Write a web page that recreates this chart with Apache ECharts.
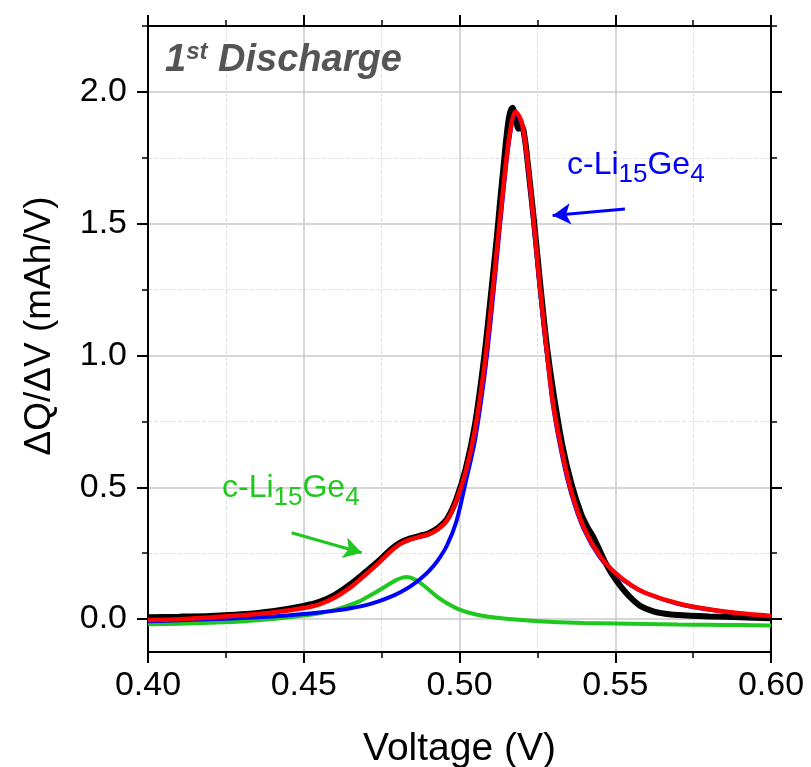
<!DOCTYPE html>
<html>
<head>
<meta charset="utf-8">
<script src="https://cdn.jsdelivr.net/npm/echarts@6/dist/echarts.min.js"></script>
<style>
  html, body { margin: 0; background: #fff; }
  #chart { width: 811px; height: 767px; }
</style>
</head>
<body>
<div id="chart"></div>
<script>
  // measured dQ/dV (black)
  const dataV = [0.400, 0.410, 0.420, 0.430, 0.440, 0.450, 0.455, 0.460, 0.465, 0.470, 0.474, 0.478, 0.481, 0.484, 0.487, 0.490, 0.493, 0.496, 0.499, 0.502, 0.505, 0.508, 0.510, 0.512, 0.513, 0.514, 0.515, 0.516, 0.517, 0.518, 0.519, 0.520, 0.521, 0.522, 0.524, 0.526, 0.528, 0.530, 0.533, 0.536, 0.539, 0.541, 0.543, 0.545, 0.547, 0.549, 0.552, 0.555, 0.558, 0.562, 0.566, 0.570, 0.580, 0.590, 0.600];
  const dataQ = [0.007, 0.009, 0.012, 0.018, 0.030, 0.050, 0.065, 0.092, 0.132, 0.180, 0.220, 0.265, 0.290, 0.305, 0.315, 0.325, 0.345, 0.380, 0.455, 0.57, 0.74, 1.00, 1.22, 1.45, 1.58, 1.70, 1.82, 1.91, 1.94, 1.90, 1.86, 1.87, 1.82, 1.72, 1.50, 1.26, 1.04, 0.87, 0.66, 0.51, 0.40, 0.35, 0.31, 0.26, 0.21, 0.17, 0.12, 0.08, 0.05, 0.03, 0.02, 0.015, 0.010, 0.007, 0.003];

  // fit curves: envelope (red), main peak (blue)
  const fitV = [0.400, 0.410, 0.420, 0.430, 0.440, 0.450, 0.455, 0.460, 0.465, 0.470, 0.474, 0.478, 0.481, 0.484, 0.487, 0.490, 0.493, 0.496, 0.499, 0.502, 0.505, 0.508, 0.510, 0.512, 0.514, 0.516, 0.518, 0.520, 0.522, 0.524, 0.526, 0.528, 0.530, 0.533, 0.536, 0.540, 0.545, 0.550, 0.555, 0.560, 0.570, 0.580, 0.590, 0.600];
  const envelopeQ = [-0.004, -0.001, 0.006, 0.014, 0.025, 0.042, 0.056, 0.082, 0.12, 0.17, 0.212, 0.258, 0.285, 0.301, 0.312, 0.321, 0.340, 0.375, 0.45, 0.56, 0.72, 0.96, 1.17, 1.40, 1.63, 1.83, 1.925, 1.885, 1.72, 1.485, 1.24, 1.02, 0.82, 0.63, 0.48, 0.345, 0.24, 0.175, 0.13, 0.098, 0.06, 0.037, 0.022, 0.012];
  const mainPeakQ = [-0.008, -0.005, -0.001, 0.004, 0.010, 0.019, 0.025, 0.032, 0.041, 0.053, 0.067, 0.085, 0.102, 0.122, 0.148, 0.180, 0.222, 0.28, 0.37, 0.52, 0.68, 0.92, 1.13, 1.37, 1.61, 1.82, 1.92, 1.88, 1.71, 1.475, 1.23, 1.01, 0.81, 0.615, 0.47, 0.338, 0.235, 0.172, 0.128, 0.097, 0.058, 0.036, 0.021, 0.011];

  // minor peak (green)
  const minorV = [0.400, 0.410, 0.420, 0.430, 0.440, 0.450, 0.455, 0.460, 0.464, 0.468, 0.472, 0.475, 0.478, 0.480, 0.482, 0.483, 0.484, 0.486, 0.488, 0.490, 0.493, 0.496, 0.500, 0.505, 0.510, 0.520, 0.530, 0.540, 0.550, 0.560, 0.570, 0.580, 0.590, 0.600];
  const minorQ = [-0.020, -0.018, -0.014, -0.009, 0.000, 0.013, 0.022, 0.035, 0.050, 0.068, 0.094, 0.115, 0.137, 0.150, 0.158, 0.160, 0.158, 0.148, 0.132, 0.113, 0.083, 0.060, 0.036, 0.018, 0.008, -0.004, -0.011, -0.015, -0.017, -0.019, -0.021, -0.022, -0.023, -0.024];

  const yMajor = [0, 0.5, 1.0, 1.5, 2.0];
  const yMinor = [0.25, 0.75, 1.25, 1.75, 2.25];

  const pairs = (xs, ys) => xs.map((x, i) => [x, ys[i]]);

  const FONT = '"Liberation Sans", Arial, sans-serif';
  const BLUE = '#0000ff';
  const GREEN = '#1ec81e';

  const chart = echarts.init(document.getElementById('chart'));

  const baseX = {
    type: 'value', min: 0.4, max: 0.6, interval: 0.05,
    axisLine: { show: true, onZero: false, lineStyle: { color: '#000', width: 2 } },
    axisTick: { show: true, length: 11, lineStyle: { color: '#000', width: 2 } },
    minorTick: { show: true, splitNumber: 2, length: 6, lineStyle: { color: '#000', width: 1.5 } },
  };

  const yAx = (pos, ticks, len, extra) => Object.assign({
    type: 'value', min: -0.125, max: 2.25, position: pos,
    axisLine: { show: true, onZero: false, lineStyle: { color: '#000', width: 2 } },
    axisTick: { show: true, customValues: ticks, length: len, lineStyle: { color: '#000', width: len > 8 ? 2 : 1.5 } },
    axisLabel: { show: false },
    splitLine: { show: false },
  }, extra);

  // subscript: tall line box, base text pinned to top, subscript pinned to bottom
  const label = (txt, color) => ({
    text: txt,
    rich: {
      b: { fontSize: 32, fontFamily: FONT, fill: color, lineHeight: 39, verticalAlign: 'top' },
      s: { fontSize: 26, fontFamily: FONT, fill: color, verticalAlign: 'bottom' },
    },
  });

  const option = {
    animation: false,
    backgroundColor: '#fff',
    grid: { left: 148, right: 40, top: 26, bottom: 115, outerBoundsMode: 'none' },
    xAxis: [
      Object.assign({}, baseX, {
        position: 'bottom',
        name: 'Voltage (V)', nameLocation: 'middle', nameGap: 78,
        nameTextStyle: { fontSize: 39, color: '#000', fontFamily: FONT },
        axisLabel: { formatter: v => v.toFixed(2), fontSize: 34, color: '#000', margin: 17, fontFamily: FONT },
        splitLine: { show: true, lineStyle: { color: '#c8c8c8', width: 1.5 } },
        minorSplitLine: { show: true, lineStyle: { color: '#e2e2e2', width: 1, type: 'dashed' } },
      }),
      Object.assign({}, baseX, {
        position: 'top',
        axisLabel: { show: false },
        splitLine: { show: false },
      }),
    ],
    yAxis: [
      yAx('left', yMajor, 11, {
        axisLabel: { show: true, customValues: yMajor, formatter: v => v.toFixed(1), fontSize: 34, color: '#000', margin: 21, fontFamily: FONT },
        splitLine: { show: true, lineStyle: { color: '#c8c8c8', width: 1.5 } },
      }),
      yAx('left', yMinor, 6, {
        axisLine: { show: false },
        splitLine: { show: true, lineStyle: { color: '#e2e2e2', width: 1, type: 'dashed' } },
      }),
      yAx('right', yMajor, 11, {}),
      yAx('right', yMinor, 6, { axisLine: { show: false } }),
    ],
    series: [
      {
        name: 'data', type: 'line', data: pairs(dataV, dataQ),
        showSymbol: false, smooth: 0.3, z: 2,
        lineStyle: { color: '#000', width: 6 },
      },
      {
        name: 'minor peak', type: 'line', data: pairs(minorV, minorQ),
        showSymbol: false, smooth: 0.3, z: 3,
        lineStyle: { color: GREEN, width: 4 },
        markLine: {
          silent: true, symbol: ['none', 'arrow'], symbolSize: [16, 18],
          label: { show: false },
          lineStyle: { color: GREEN, width: 3, type: 'solid' },
          data: [[{ coord: [0.4461, 0.3275] }, { coord: [0.4686, 0.2516] }]],
        },
      },
      {
        name: 'main peak', type: 'line', data: pairs(fitV, mainPeakQ),
        showSymbol: false, smooth: 0.3, z: 4,
        lineStyle: { color: BLUE, width: 4 },
        markLine: {
          silent: true, symbol: ['none', 'arrow'], symbolSize: [16, 18],
          label: { show: false },
          lineStyle: { color: BLUE, width: 3, type: 'solid' },
          data: [[{ coord: [0.5531, 1.556] }, { coord: [0.5299, 1.531] }]],
        },
      },
      {
        name: 'envelope', type: 'line', data: pairs(fitV, envelopeQ),
        showSymbol: false, smooth: 0.3, z: 5,
        lineStyle: { color: '#ff0000', width: 4.5 },
      },
    ],
    graphic: [
      {
        type: 'text', x: 40, y: 326, rotation: Math.PI / 2, z: 100,
        style: { text: 'ΔQ/ΔV (mAh/V)', fontSize: 37, fontFamily: FONT, fill: '#000', align: 'center', verticalAlign: 'middle' },
      },
      {
        type: 'text', left: 165, top: 40, z: 100,
        style: {
          text: '{a|1}{b|st}{a| Discharge}',
          rich: {
            a: { fontSize: 38, fontWeight: 'bold', fontStyle: 'italic', fontFamily: FONT, fill: '#555', lineHeight: 40, verticalAlign: 'bottom' },
            b: { fontSize: 24, fontWeight: 'bold', fontStyle: 'italic', fontFamily: FONT, fill: '#555', lineHeight: 20, verticalAlign: 'top' },
          },
        },
      },
      { type: 'text', left: 567, top: 149, z: 100, style: label('{b|c-Li}{s|15}{b|Ge}{s|4}', BLUE) },
      { type: 'text', left: 222, top: 472, z: 100, style: label('{b|c-Li}{s|15}{b|Ge}{s|4}', GREEN) },
    ],
  };

  chart.setOption(option);
</script>
</body>
</html>
